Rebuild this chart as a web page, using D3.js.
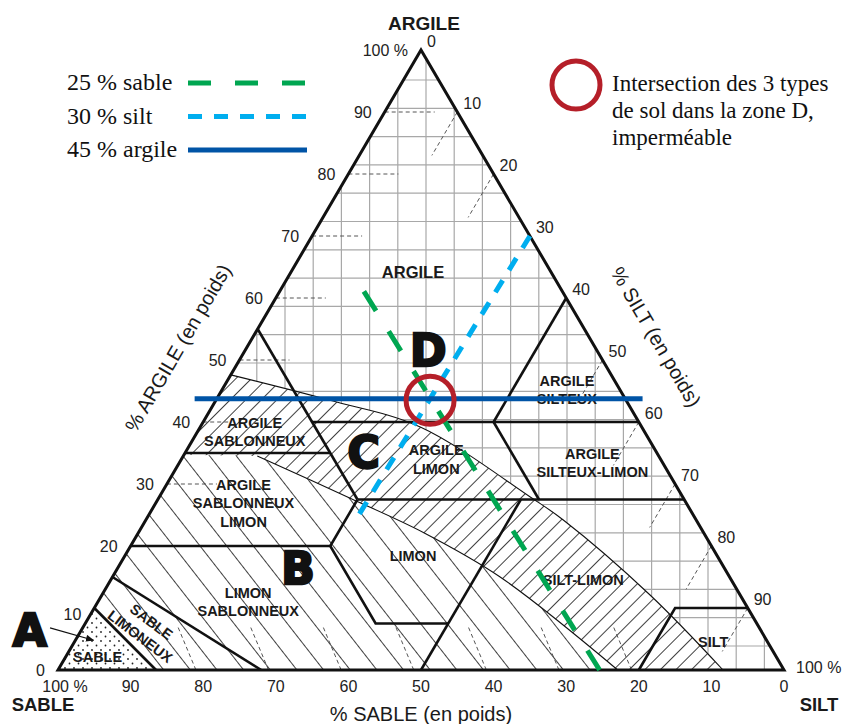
<!DOCTYPE html>
<html>
<head>
<meta charset="utf-8">
<script src="https://cdn.jsdelivr.net/npm/d3@7"></script>
<style>
	body { margin: 0; background: #fff; }
	svg { display: block; }
</style>
</head>
<body>
<div id="chart"></div>
<script>

// ternary values are [sand, clay] in %, silt = 100 - sand - clay
const sandTicks = [100, 90, 80, 70, 60, 50, 40, 30, 20, 10, 0];
const sandTickLabels = ["100 %", "90", "80", "70", "60", "50", "40", "30", "20", "10", "0"];
const clayTicks = [0, 10, 20, 30, 40, 50, 60, 70, 80, 90, 100];
const clayTickLabels = ["0", "10", "20", "30", "40", "50", "60", "70", "80", "90", "100 %"];
const siltTicks = [0, 10, 20, 30, 40, 50, 60, 70, 80, 90, 100];
const siltTickLabels = ["0", "10", "20", "30", "40", "50", "60", "70", "80", "90", "100 %"];

const clayDashTicks = [30, 40, 50, 60, 70, 80, 90];
const siltDashTicks = [10, 20, 50, 60, 70, 80, 90];
const sandDashTicks = [80, 70, 60, 50, 40, 30, 20];

const classBoundaries = [
	[[45, 55], [45, 27.5]],
	[[45, 40], [0, 40]],
	[[0, 60], [20, 40]],
	[[20, 40], [20, 27.5]],
	[[45, 27.5], [0, 27.5]],
	[[65, 35], [45, 35]],
	[[80, 20], [52.5, 20]],
	[[45, 27.5], [52.5, 20], [52.5, 7.5], [42.5, 7.5]],
	[[22.5, 27.5], [50, 0]],
	[[85, 15], [72, 0]],
	[[90, 10], [86.5, 0]],
	[[20, 0], [10, 10], [0, 10]]
];

// curved limits of the permeability zones
const curveUpper = [[52.4, 47.6], [40.8, 43.5], [30.5, 39.2], [21, 27.9], [18.3, 24.2], [12.4, 12.1], [8.4, 0]];
const curveLower = [[55.3, 34.5], [45.9, 27.7], [38.5, 22.1], [31.6, 15], [22.9, 0]];
const curveLowerStart = [65.3, 34.7];
const sandZone = [[100, 0], [86.5, 0], [90, 10]];

const classNames = [
	["ARGILE"], ["ARGILE", "SILTEUX"], ["ARGILE", "SABLONNEUX"], ["ARGILE", "SABLONNEUX", "LIMON"],
	["LIMON", "SABLONNEUX"], ["LIMON"], ["ARGILE", "LIMON"], ["ARGILE", "SILTEUX-LIMON"],
	["SILT-LIMON"], ["SILT"], ["SABLE"], ["SABLE", "LIMONEUX"]
];
const classSand = [19, 7.3, 53.7, 61, 68.3, 41.9, 30.9, 9.7, 20.4, 7.5, 93.5, 84.6];
const classClay = [64.2, 45.2, 38.4, 26.9, 11, 18.4, 34, 33.4, 14.5, 4.5, 2.1, 6.6];
const classAngle = [0, 0, 0, 0, 0, 0, 0, 0, 0, 0, 0, 37];

const zoneLetters = ["A", "B", "C", "D"];
const zoneSand = [100.7, 58.7, 40.3, 23.2];
const zoneClay = [6.4, 16.5, 35.2, 51.6];
const arrowA = [[97.7, 6.8], [92.7, 4.8]];

const sandLine = [[25.4, 0], [27.4, 63.1]];
const siltLine = [[0, 70], [47.2, 23.9]];
const clayLine = [[59.3, 43.76], [-2.4, 43.76]];
const intersection = [27, 43.5];

const legendLabels = ["25 % sable", "30 % silt", "45 % argile"];
const legendColors = ["#00a651", "#00aeef", "#0054a6"];
const legendDashes = ["23,24", "14,12", null];
const noteLines = ["Intersection des 3 types", "de sol dans la zone D,", "imperméable"];

const width = 848, height = 724;
const sans = "'Liberation Sans', Arial, sans-serif";
const serif = "'Liberation Serif', 'Times New Roman', serif";

const xs = d3.scaleLinear().domain([0, 100]).range([784, 58]);
const ys = d3.scaleLinear().domain([0, 100]).range([670, 50]);

const vA = [xs(100), ys(0)], vB = [xs(0), ys(0)], vC = [xs(50), ys(100)];
function pt(d) {
	const s = d[0] / 100, c = d[1] / 100, t = 1 - s - c;
	return [vA[0] * s + vB[0] * t + vC[0] * c, vA[1] * s + vB[1] * t + vC[1] * c];
}

const svg = d3.select("#chart").append("svg")
	.attr("width", width)
	.attr("height", height);

const defs = svg.append("defs");

function hatch(id, size, angle) {
	const p = defs.append("pattern")
		.attr("id", id)
		.attr("patternUnits", "userSpaceOnUse")
		.attr("width", size).attr("height", size)
		.attr("patternTransform", `rotate(${angle})`);
	p.append("rect").attr("width", size).attr("height", size).attr("fill", "#fff");
	p.append("line")
		.attr("x1", size / 2).attr("y1", 0)
		.attr("x2", size / 2).attr("y2", size)
		.attr("stroke", "#2a2a2a").attr("stroke-width", 0.9);
}
hatch("hatch-c", 11, 45);
hatch("hatch-b", 21, -38);

const dots = defs.append("pattern")
	.attr("id", "dots")
	.attr("patternUnits", "userSpaceOnUse")
	.attr("width", 9).attr("height", 9);
dots.append("rect").attr("width", 9).attr("height", 9).attr("fill", "#fff");
dots.selectAll("circle")
	.data([[2, 2], [6.5, 6.5]]).enter()
	.append("circle")
		.attr("cx", d => d[0]).attr("cy", d => d[1])
		.attr("r", 0.9).attr("fill", "#222");

const tri = [[100, 0], [0, 0], [0, 100]];
const polyLine = d3.line().x(d => pt(d)[0]).y(d => pt(d)[1]);
const curveLine = d3.line().x(d => pt(d)[0]).y(d => pt(d)[1]).curve(d3.curveCatmullRom.alpha(0.5));

defs.append("clipPath").attr("id", "tri-clip")
	.append("path").attr("d", polyLine(tri) + "Z");

svg.append("path")
	.attr("d", polyLine(tri) + "Z")
	.attr("fill", "#fff");

// paper grid
const grid = svg.append("g").attr("clip-path", "url(#tri-clip)")
	.attr("stroke", "#a8a8a8").attr("stroke-width", 1.2);
grid.selectAll("line.h")
	.data(d3.range(0, 22)).enter()
	.append("line")
		.attr("x1", 40).attr("x2", 800)
		.attr("y1", k => 80 + k * 28.3).attr("y2", k => 80 + k * 28.3);
grid.selectAll("line.v")
	.data(d3.range(-13, 14)).enter()
	.append("line")
		.attr("y1", 40).attr("y2", 680)
		.attr("x1", k => 426 + k * 28.2).attr("x2", k => 426 + k * 28.2);

// zone C, zone B, zone A
const bl = pt([100, 0]);
svg.append("path")
	.attr("d", curveLine(curveUpper) + `L${bl[0]},${bl[1]}Z`)
	.attr("fill", "url(#hatch-c)");

const ls = pt(curveLowerStart);
svg.append("path")
	.attr("d", `M${ls[0]},${ls[1]}L` + curveLine(curveLower).substring(1) + `L${bl[0]},${bl[1]}Z`)
	.attr("fill", "url(#hatch-b)");

svg.append("path")
	.attr("d", polyLine(sandZone) + "Z")
	.attr("fill", "url(#dots)");

// dashed tick guides
const guides = svg.append("g")
	.attr("stroke", "#555").attr("stroke-width", 1).attr("stroke-dasharray", "4,3").attr("fill", "none");
clayDashTicks.forEach(c => {
	const p = pt([100 - c, c]);
	guides.append("line")
		.attr("x1", p[0]).attr("y1", p[1])
		.attr("x2", p[0] + (c === 40 ? 25 : 50)).attr("y2", p[1]);
});
siltDashTicks.forEach(s => {
	guides.append("path").attr("d", polyLine([[0, 100 - s], [7, 93 - s]]));
});
sandDashTicks.forEach(s => {
	guides.append("path").attr("d", polyLine([[s + 1, 0], [s, 7]]));
});

// zone limits
svg.append("path")
	.attr("d", curveLine(curveUpper))
	.attr("fill", "none").attr("stroke", "#111").attr("stroke-width", 1.1);
svg.append("path")
	.attr("d", curveLine(curveLower))
	.attr("fill", "none").attr("stroke", "#111").attr("stroke-width", 1.1);

svg.append("g")
	.selectAll("path")
	.data(classBoundaries).enter()
	.append("path")
		.attr("d", polyLine)
		.attr("fill", "none")
		.attr("stroke", "#111")
		.attr("stroke-width", 2.6)
		.attr("stroke-linejoin", "miter");

svg.append("path")
	.attr("d", polyLine(tri) + "Z")
	.attr("fill", "none")
	.attr("stroke", "#111")
	.attr("stroke-width", 3)
	.attr("stroke-linejoin", "miter");

// class labels
const labels = svg.append("g")
	.attr("font-family", sans).attr("font-weight", "bold").attr("fill", "#1a1a1a")
	.attr("text-anchor", "middle");
classNames.forEach((lines, i) => {
	const p = pt([classSand[i], classClay[i]]);
	const t = labels.append("text")
		.attr("transform", `translate(${p[0]},${p[1]}) rotate(${classAngle[i]})`)
		.attr("font-size", i === 0 ? 16.5 : 14.5);
	t.selectAll("tspan")
		.data(lines).enter()
		.append("tspan")
			.attr("x", 0)
			.attr("y", (d, j) => (j - (lines.length - 1) / 2) * 18.5)
			.attr("dy", "0.36em")
			.text(d => d);
});

// axis labels
const axes = svg.append("g").attr("font-family", sans).attr("font-size", 16).attr("fill", "#222");
sandTicks.forEach((s, i) => {
	axes.append("text")
		.attr("x", xs(s) + (s === 100 ? 7 : 0))
		.attr("y", 686)
		.attr("dy", "0.35em")
		.attr("text-anchor", "middle")
		.text(sandTickLabels[i]);
});
clayTicks.forEach((c, i) => {
	const p = pt([100 - c, c]);
	axes.append("text")
		.attr("x", p[0] - 13)
		.attr("y", p[1] + (c === 10 ? 6 : 0))
		.attr("dy", "0.35em")
		.attr("text-anchor", "end")
		.text(clayTickLabels[i]);
});
siltTicks.forEach((s, i) => {
	const p = pt([0, 100 - s]);
	axes.append("text")
		.attr("x", p[0] + (s === 100 ? 12 : 6))
		.attr("y", p[1] - (s === 100 ? 3 : 9))
		.attr("dy", "0.35em")
		.attr("text-anchor", "start")
		.text(siltTickLabels[i]);
});

const titles = svg.append("g").attr("font-family", sans).attr("fill", "#1a1a1a");
titles.append("text").attr("x", vC[0] + 3).attr("y", 23).attr("dy", "0.35em")
	.attr("text-anchor", "middle").attr("font-weight", "bold").attr("font-size", 19).text("ARGILE");
titles.append("text").attr("x", 43).attr("y", 705).attr("dy", "0.35em")
	.attr("text-anchor", "middle").attr("font-weight", "bold").attr("font-size", 18.5).text("SABLE");
titles.append("text").attr("x", 819).attr("y", 705).attr("dy", "0.35em")
	.attr("text-anchor", "middle").attr("font-weight", "bold").attr("font-size", 18.5).text("SILT");
titles.append("text").attr("x", 421).attr("y", 714).attr("dy", "0.35em")
	.attr("text-anchor", "middle").attr("font-size", 20).text("% SABLE (en poids)");
titles.append("text").attr("transform", "translate(178,348) rotate(-59.7)").attr("dy", "0.35em")
	.attr("text-anchor", "middle").attr("font-size", 20).text("% ARGILE (en poids)");
titles.append("text").attr("transform", "translate(656,337) rotate(59.7)").attr("dy", "0.35em")
	.attr("text-anchor", "middle").attr("font-size", 20).text("% SILT (en poids)");

// reading lines
const readLines = [sandLine, siltLine, clayLine];
readLines.forEach((l, i) => {
	svg.append("path")
		.attr("d", polyLine(l))
		.attr("fill", "none")
		.attr("stroke", legendColors[i])
		.attr("stroke-width", 5)
		.attr("stroke-dasharray", legendDashes[i]);
});

// zone letters
const letters = svg.append("g")
	.attr("font-family", "'DejaVu Sans', sans-serif").attr("font-weight", "bold")
	.attr("font-size", 44).attr("text-anchor", "middle")
	.attr("fill", "#111").attr("stroke", "#111").attr("stroke-width", 2.5);
zoneLetters.forEach((z, i) => {
	const p = pt([zoneSand[i], zoneClay[i]]);
	letters.append("text").attr("x", p[0]).attr("y", p[1]).attr("dy", "0.36em").text(z);
});

defs.append("marker")
	.attr("id", "arrow").attr("viewBox", "0 0 10 10")
	.attr("refX", 9).attr("refY", 5)
	.attr("markerWidth", 7).attr("markerHeight", 7)
	.attr("orient", "auto")
	.append("path").attr("d", "M0,1L10,5L0,9Z").attr("fill", "#111");
svg.append("path")
	.attr("d", polyLine(arrowA))
	.attr("stroke", "#111").attr("stroke-width", 1.2)
	.attr("marker-end", "url(#arrow)");

// intersection mark
const ip = pt(intersection);
svg.append("circle")
	.attr("cx", ip[0]).attr("cy", ip[1]).attr("r", 24)
	.attr("fill", "none").attr("stroke", "#b51f29").attr("stroke-width", 5);

// legend
const legend = svg.append("g").attr("font-family", serif).attr("font-size", 24).attr("fill", "#111");
legendLabels.forEach((d, i) => {
	const y = 83 + i * 33.5;
	legend.append("text").attr("x", 67).attr("y", y + 7).text(d);
	legend.append("line")
		.attr("x1", 188).attr("x2", 307)
		.attr("y1", y).attr("y2", y)
		.attr("stroke", legendColors[i])
		.attr("stroke-width", 5)
		.attr("stroke-dasharray", legendDashes[i]);
});

svg.append("circle")
	.attr("cx", 576).attr("cy", 85).attr("r", 24)
	.attr("fill", "none").attr("stroke", "#b51f29").attr("stroke-width", 5);
svg.append("text")
	.attr("font-family", serif).attr("font-size", 23).attr("fill", "#111")
	.selectAll("tspan")
	.data(noteLines).enter()
	.append("tspan")
		.attr("x", 612)
		.attr("y", (d, i) => 91 + i * 27)
		.text(d => d);

</script>
</body>
</html>
